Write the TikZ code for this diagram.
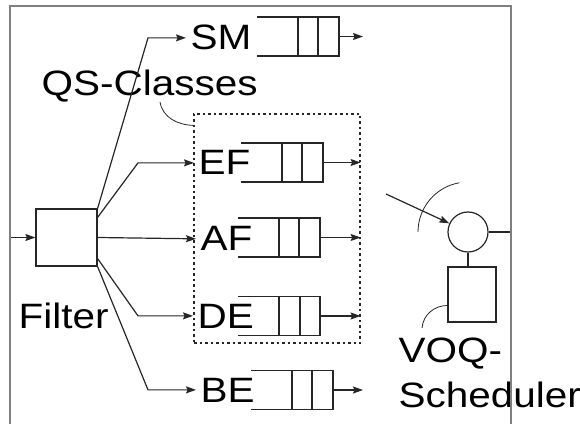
\documentclass[tikz,border=0pt]{standalone}
\usepackage{fontspec}
\setmainfont{Liberation Sans}
\usetikzlibrary{arrows.meta,positioning,calc}

\begin{document}
\begin{tikzpicture}[line width=1.2pt,draw=black!85,
	arr/.style={->,>={Stealth[length=10pt,width=7pt,inset=1.5pt]},shorten >=4pt},
	lbl/.style={font=\fontsize{40.5}{51}\selectfont,yscale=0.87,inner sep=0pt,anchor=base west},
	box/.style={draw,rectangle,inner sep=0pt}]
	\useasboundingbox (0pt,0pt) rectangle (580pt,423pt);

	% filter and class labels
	\node[box,minimum width=61pt,minimum height=57pt] (flt) at (66.5pt,185.5pt){};
	\coordinate (in) at (11pt,185.5pt);
	\node[lbl] (fl) at (18pt,95pt){Filter};
	\node[lbl] (qs) at (41pt,327pt){QS-Classes};
	\node[draw,dash pattern=on 2.5pt off 3pt,minimum width=166pt,minimum height=229pt] (cls) at (277pt,194.5pt){};
	\node[lbl] (sm) at (190pt,373pt){SM};
	\node[lbl] (ef) at (198pt,248pt){EF};
	\node[lbl] (af) at (200pt,172pt){AF};
	\node[lbl] (de) at (197pt,95pt){DE};
	\node[lbl] (be) at (200pt,21pt){BE};

	\draw[arr,shorten >=0pt] (in)--(flt);
	\draw[arr] (flt.north east) -- (sm.west -| 148pt,0pt) -- (sm.west);
	\draw[arr] ([yshift=-9pt]flt.north east) -- (ef.west -| 138pt,0pt) -- (ef.west);
	\draw[arr] (flt.east) -- (af.west);
	\draw[arr] ([yshift=8pt]flt.south east) -- (de.west -| 138pt,0pt) -- (de.west);
	\draw[arr] (flt.south east) -- (be.west -| 148pt,0pt) -- (be.west);
	\draw[line width=0.8pt] (160pt,321pt) to[out=-80,in=178] ([yshift=-12pt]cls.north west);

	% queues
	\draw (257pt,406pt) -- ++(82pt,0pt) -- ++(0pt,-39pt) -- ++(-82pt,0pt);
	\draw (298pt,406pt) -- ++(0pt,-39pt) (318pt,406pt) -- ++(0pt,-39pt);
	\draw (241pt,280pt) -- ++(82pt,0pt) -- ++(0pt,-39pt) -- ++(-82pt,0pt);
	\draw (282pt,280pt) -- ++(0pt,-39pt) (302pt,280pt) -- ++(0pt,-39pt);
	\draw (238pt,205pt) -- ++(82pt,0pt) -- ++(0pt,-39pt) -- ++(-82pt,0pt);
	\draw (279pt,205pt) -- ++(0pt,-39pt) (299pt,205pt) -- ++(0pt,-39pt);
	\draw (238pt,126.5pt) -- ++(82pt,0pt) -- ++(0pt,-39pt) -- ++(-82pt,0pt);
	\draw (279pt,126.5pt) -- ++(0pt,-39pt) (300pt,126.5pt) -- ++(0pt,-39pt);
	\draw (251pt,52.5pt) -- ++(82pt,0pt) -- ++(0pt,-39pt) -- ++(-82pt,0pt);
	\draw (292pt,52.5pt) -- ++(0pt,-39pt) (312pt,52.5pt) -- ++(0pt,-39pt);
	\coordinate (smq) at (339pt,386.5pt);
	\coordinate (efq) at (323pt,260.5pt);
	\coordinate (afq) at (320pt,185.5pt);
	\coordinate (deq) at (320pt,107pt);
	\coordinate (beq) at (333pt,33pt);
	\draw[arr,shorten >=0pt] (smq)--(363pt,386.5pt);
	\draw[arr,shorten >=0pt] (efq)--(cls.east |- efq);
	\draw[arr,shorten >=0pt] (afq)--(cls.east |- afq);
	\draw[arr,shorten >=0pt] (deq)--(cls.east |- deq);
	\draw[arr,shorten >=0pt] (beq)--(363pt,33pt);

	% scheduler
	\node[draw,circle,minimum size=40pt,inner sep=0pt] (sch) at (468pt,191pt){};
	\node[box,minimum width=48pt,minimum height=55pt] (vq) at (472pt,128.5pt){};
	\node[lbl,align=left] (vl) at (398pt,16pt){VOQ-\\Scheduler};
	\coordinate (vin) at (386pt,229pt);
	\coordinate (out) at (511pt,191pt);
	\draw[arr,shorten >=0pt] (vin)--(sch);
	\draw (sch.east)--(out);
	\draw (sch.south)--(sch.south |- vq.north);
	\draw[line width=0.8pt] (sch.center) ++(180:50pt) arc (180:100:50pt);
	\draw[line width=0.8pt] ([yshift=-11pt]vq.west) to[out=180,in=85] (422pt,95pt);

	% frame
	\draw[draw=gray] (10pt,-5pt)--(10pt,417pt)--(511pt,417pt)--(511pt,-5pt);
\end{tikzpicture}
\end{document}
